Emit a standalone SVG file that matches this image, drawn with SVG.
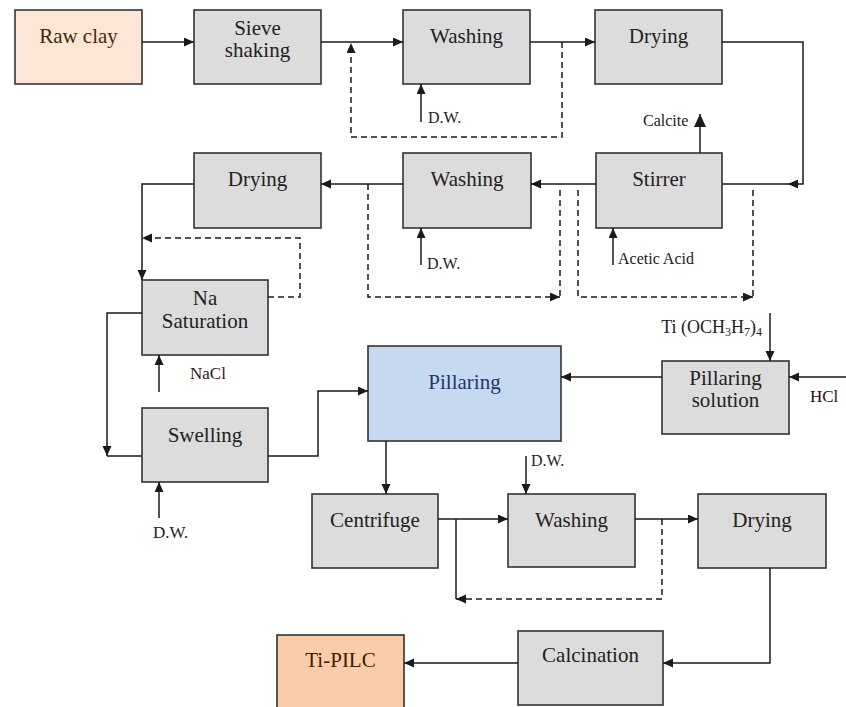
<svg xmlns="http://www.w3.org/2000/svg" width="846" height="707" viewBox="0 0 846 707">
<defs>
<marker id="ah" markerUnits="userSpaceOnUse" markerWidth="11" markerHeight="10" refX="10" refY="4.5" orient="auto"><path d="M0,0 L10,4.5 L0,9 z" fill="#1a1a1a"/></marker>
<marker id="ahb" markerUnits="userSpaceOnUse" markerWidth="14" markerHeight="14" refX="13" refY="6" orient="auto"><path d="M0,0 L13,6 L0,12 z" fill="#1a1a1a"/></marker>
<style>
.box{fill:#dcdcdc;stroke:#333;stroke-width:1.6}
.t{font-family:"Liberation Serif","Times New Roman",serif;font-size:21px;fill:#222;text-anchor:middle}
.s{font-family:"Liberation Serif","Times New Roman",serif;font-size:16px;fill:#222}
.c{fill:none;stroke:#1a1a1a;stroke-width:1.5}
.a{marker-end:url(#ah)}
.d{stroke-dasharray:6,4}
</style>
</defs>
<rect width="846" height="707" fill="#fff"/>
<g id="raw-clay"><rect x="15" y="10" width="127" height="74" class="box" style="fill:#fde6d6"/><text x="78.5" y="43" class="t" style="fill:#4a2508">Raw clay</text></g>
<g id="sieve"><rect x="194" y="10" width="127" height="74" class="box"/><text x="257.5" y="35" class="t">Sieve</text><text x="257.5" y="57" class="t">shaking</text></g>
<g id="washing1"><rect x="403" y="10" width="127" height="74" class="box"/><text x="466.5" y="43" class="t">Washing</text></g>
<g id="drying1"><rect x="595" y="10" width="127" height="74" class="box"/><text x="658.5" y="43" class="t">Drying</text></g>
<g id="stirrer"><rect x="596" y="153" width="126" height="75" class="box"/><text x="659" y="186" class="t">Stirrer</text></g>
<g id="washing2"><rect x="403" y="153" width="128" height="75" class="box"/><text x="467" y="186" class="t">Washing</text></g>
<g id="drying2"><rect x="194" y="153" width="127" height="75" class="box"/><text x="257.5" y="186" class="t">Drying</text></g>
<g id="na-saturation"><rect x="142" y="280" width="126" height="75" class="box"/><text x="205" y="305" class="t">Na</text><text x="205" y="328" class="t">Saturation</text></g>
<g id="swelling"><rect x="142" y="408" width="126" height="74" class="box"/><text x="205" y="442" class="t">Swelling</text></g>
<g id="pillaring"><rect x="368" y="346" width="193" height="95" class="box" style="fill:#c6d9f1"/><text x="464.5" y="389" class="t" style="fill:#1f3864">Pillaring</text></g>
<g id="pillaring-solution"><rect x="662" y="361" width="127" height="73" class="box"/><text x="725.5" y="385" class="t">Pillaring</text><text x="725.5" y="407" class="t">solution</text></g>
<g id="centrifuge"><rect x="312" y="494" width="126" height="74" class="box"/><text x="375" y="527" class="t">Centrifuge</text></g>
<g id="washing3"><rect x="508" y="494" width="127" height="73" class="box"/><text x="571.5" y="527" class="t">Washing</text></g>
<g id="drying3"><rect x="698" y="494" width="128" height="74" class="box"/><text x="762" y="527" class="t">Drying</text></g>
<g id="calcination"><rect x="518" y="631" width="145" height="74" class="box"/><text x="590.5" y="662" class="t">Calcination</text></g>
<g id="ti-pilc"><rect x="277" y="635" width="127" height="80" class="box" style="fill:#fbcca8"/><text x="340.5" y="667" class="t" style="fill:#3d1a05">Ti-PILC</text></g>
<g id="connectors">
<path d="M142,42 H194" class="c a"/>
<path d="M321,42 H403" class="c a"/>
<path d="M562,42 V137 H351 V43" class="c a d"/>
<path d="M530,42 H595" class="c a"/>
<path d="M722,42 H803 V184 H788" class="c a"/>
<path d="M788,184 H722" class="c"/>
<path d="M421,122 V84" class="c a"/>
<path d="M700,153 V114" class="c" style="marker-end:url(#ahb)"/>
<path d="M613,265 V228" class="c a"/>
<path d="M596,184 H531" class="c a"/>
<path d="M403,184 H321" class="c a"/>
<path d="M421,265 V228" class="c a"/>
<path d="M368,184 V297 H560" class="c a d"/>
<path d="M560,190 V297" class="c d"/>
<path d="M578,190 V297 H753" class="c a d"/>
<path d="M753,190 V297" class="c d"/>
<path d="M194,184 H142 V280" class="c a"/>
<path d="M268,297 H300 V238 H142" class="c a d"/>
<path d="M142,313 H107 V456" class="c a"/>
<path d="M107,456 H142" class="c"/>
<path d="M159,392 V355" class="c a"/>
<path d="M159,518 V482" class="c a"/>
<path d="M268,456 H318 V391 H368" class="c a"/>
<path d="M662,377 H561" class="c a"/>
<path d="M770,313 V361" class="c a"/>
<path d="M846,377 H789" class="c a"/>
<path d="M386,441 V494" class="c a"/>
<path d="M526,456 V494" class="c a"/>
<path d="M438,519 H508" class="c a"/>
<path d="M456,519 V599" class="c"/>
<path d="M662,519 V599 H456" class="c a d"/>
<path d="M635,519 H698" class="c a"/>
<path d="M770,568 V663 H663" class="c a"/>
<path d="M518,663 H404" class="c a"/>
</g>
<g id="labels">
<text x="428" y="123" class="s">D.W.</text>
<text x="643" y="126" class="s">Calcite</text>
<text x="618" y="264" class="s">Acetic Acid</text>
<text x="427" y="269" class="s">D.W.</text>
<text x="190" y="379" class="s" style="font-size:17px;fill:#3a1414">NaCl</text>
<text x="153" y="538" class="s" style="font-size:17px">D.W.</text>
<text x="762" y="333" class="s" style="font-size:18px;text-anchor:end">Ti (OCH<tspan font-size="12" dy="3">3</tspan><tspan dy="-3">H</tspan><tspan font-size="12" dy="3">7</tspan><tspan dy="-3">)</tspan><tspan font-size="12" dy="3">4</tspan></text>
<text x="810" y="402" class="s" style="font-size:17px;fill:#2a1010">HCl</text>
<text x="531" y="466" class="s">D.W.</text>
</g>
</svg>
